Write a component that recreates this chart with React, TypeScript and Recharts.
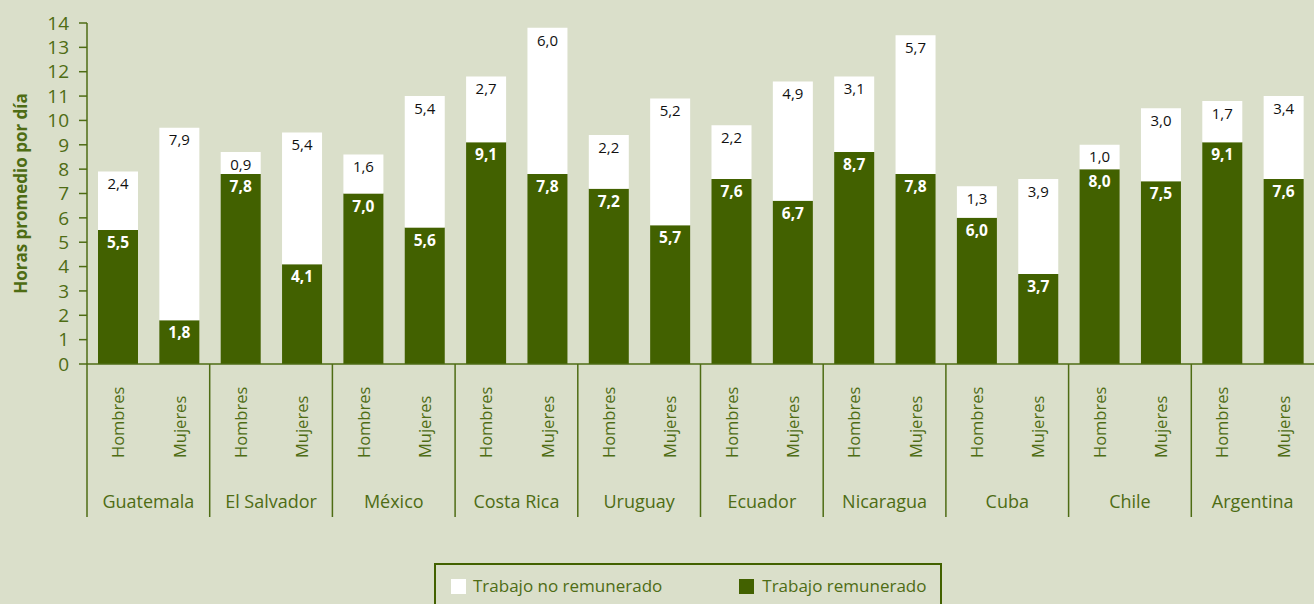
import React from 'react';
import { BarChart, Bar, XAxis, YAxis, LabelList, Legend, Label } from 'recharts';

const countries = ['Guatemala', 'El Salvador', 'México', 'Costa Rica', 'Uruguay', 'Ecuador', 'Nicaragua', 'Cuba', 'Chile', 'Argentina'];
const genders = ['Hombres', 'Mujeres'];
const paidMen = [5.5, 7.8, 7.0, 9.1, 7.2, 7.6, 8.7, 6.0, 8.0, 9.1];
const unpaidMen = [2.4, 0.9, 1.6, 2.7, 2.2, 2.2, 3.1, 1.3, 1.0, 1.7];
const paidWomen = [1.8, 4.1, 5.6, 7.8, 5.7, 6.7, 7.8, 3.7, 7.5, 7.6];
const unpaidWomen = [7.9, 5.4, 5.4, 6.0, 5.2, 4.9, 5.7, 3.9, 3.0, 3.4];
const yTicks = [0, 1, 2, 3, 4, 5, 6, 7, 8, 9, 10, 11, 12, 13, 14];

const BG = '#dadfca';
const GREEN = '#426100';
const TEXT = '#4e6c14';
const FONT = '"Open Sans", sans-serif';

const data = countries.flatMap((country, i) => [
  { key: `${country}-h`, gender: genders[0], country, paid: paidMen[i], unpaid: unpaidMen[i] },
  { key: `${country}-m`, gender: genders[1], country, paid: paidWomen[i], unpaid: unpaidWomen[i] },
]);

const fmt = (v: any) => Number(v).toFixed(1).replace('.', ',');

const GenderTick = ({ x, y, payload }: any) => {
  const g = data[payload.index]?.gender ?? '';
  return (
    <text
      x={x}
      y={y}
      transform={`rotate(-90, ${x}, ${y})`}
      textAnchor="start"
      dominantBaseline="central"
      fill={TEXT}
      fontSize={16.5}
      fontFamily={FONT}
    >
      {g}
    </text>
  );
};

const GROUP_W = 1227 / 10;

const CountryTick = ({ x, y, payload }: any) => (
  <g>
    <line x1={x - GROUP_W / 2} x2={x - GROUP_W / 2} y1={y - 120} y2={y + 33} stroke={TEXT} strokeWidth={1.5} />
    <text x={x} y={y + 24} textAnchor="middle" fill={TEXT} fontSize={18} fontFamily={FONT}>
      {payload.value}
    </text>
  </g>
);

const LegendBox = () => (
  <div
    style={{
      width: 508,
      height: 50,
      border: `2px solid ${GREEN}`,
      boxSizing: 'border-box',
      display: 'flex',
      alignItems: 'flex-start',
      paddingTop: 9,
      fontFamily: FONT,
      fontSize: 17,
      lineHeight: '24px',
      color: TEXT,
      whiteSpace: 'nowrap',
    }}
  >
    <span style={{ display: 'inline-block', flex: 'none', width: 15, height: 15, background: '#fff', marginLeft: 15, marginTop: 5 }} />
    <span style={{ marginLeft: 7 }}>Trabajo no remunerado</span>
    <span style={{ display: 'inline-block', flex: 'none', width: 15, height: 15, background: GREEN, marginLeft: 77, marginTop: 5 }} />
    <span style={{ marginLeft: 8 }}>Trabajo remunerado</span>
  </div>
);

export default function App() {
  return (
    <div style={{ position: 'absolute', left: 0, top: 0, width: 1314, height: 604, background: BG, overflow: 'hidden' }}>
      <BarChart
        width={1314}
        height={604}
        data={data}
        margin={{ top: 23, right: 0, left: 0, bottom: 60 }}
        barSize={40}
      >
        <XAxis
          dataKey="key"
          height={120}
          interval={0}
          tick={<GenderTick />}
          tickLine={false}
          tickSize={0}
          tickMargin={94}
          axisLine={{ stroke: TEXT, strokeWidth: 1.5 }}
        />
        <XAxis
          xAxisId="c"
          dataKey="country"
          allowDuplicatedCategory={false}
          height={60}
          interval={0}
          tick={<CountryTick />}
          tickLine={false}
          tickSize={0}
          tickMargin={0}
          axisLine={false}
        />
        <YAxis
          width={87}
          domain={[0, 14]}
          ticks={yTicks}
          interval={0}
          tickSize={8}
          tickMargin={10}
          tick={{ fill: TEXT, fontSize: 19, fontFamily: FONT }}
          axisLine={{ stroke: TEXT, strokeWidth: 1.5 }}
          tickLine={{ stroke: TEXT, strokeWidth: 1.5 }}
        >
          <Label
            content={({ viewBox }: any) => {
              const cy = viewBox.y + viewBox.height / 2;
              return (
                <text
                  x={20}
                  y={cy}
                  transform={`rotate(-90, 20, ${cy})`}
                  textAnchor="middle"
                  dominantBaseline="central"
                  fill={TEXT}
                  fontSize={17}
                  fontWeight="bold"
                  fontFamily={FONT}
                >
                  Horas promedio por día
                </text>
              );
            }}
          />
        </YAxis>
        <Legend
          layout="horizontal"
          verticalAlign="middle"
          align="center"
          content={<LegendBox />}
          wrapperStyle={{ left: 434, top: 563, width: 508, height: 50 }}
        />
        <Bar dataKey="paid" stackId="a" fill={GREEN} isAnimationActive={false}>
          <LabelList
            dataKey="paid"
            position="insideTop"
            offset={7}
            formatter={fmt}
            fill="#ffffff"
            fontSize={15.5}
            fontWeight="bold"
            fontFamily={FONT}
          />
        </Bar>
        <Bar dataKey="unpaid" stackId="a" fill="#ffffff" isAnimationActive={false}>
          <LabelList
            dataKey="unpaid"
            position="insideTop"
            offset={7}
            formatter={fmt}
            fill="#111111"
            fontSize={15}
            fontFamily={FONT}
          />
        </Bar>
      </BarChart>
    </div>
  );
}
